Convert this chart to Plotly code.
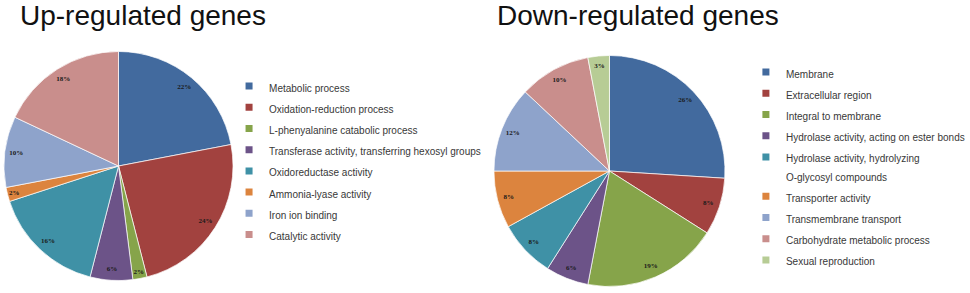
import plotly.graph_objects as go

# ---- data ----
up_labels = [
    "Metabolic process",
    "Oxidation-reduction process",
    "L-phenyalanine catabolic process",
    "Transferase activity, transferring hexosyl groups",
    "Oxidoreductase activity",
    "Ammonia-lyase activity",
    "Iron ion binding",
    "Catalytic activity",
]
up_values = [22, 24, 2, 6, 16, 2, 10, 18]

down_labels = [
    "Membrane",
    "Extracellular region",
    "Integral to membrane",
    "Hydrolase activity, acting on ester bonds",
    "Hydrolase activity, hydrolyzing\nO-glycosyl compounds",
    "Transporter activity",
    "Transmembrane transport",
    "Carbohydrate metabolic process",
    "Sexual reproduction",
]
down_values = [26, 8, 19, 6, 8, 8, 12, 10, 3]

up_colors = ["#426A9E", "#A2423F", "#86A44A", "#6C5388", "#3F91A6",
             "#DC843E", "#8EA3CB", "#C98E8C"]
down_colors = ["#426A9E", "#A2423F", "#86A44A", "#6C5388", "#3F91A6",
               "#DC843E", "#8EA3CB", "#C98E8C", "#B7CC95"]

W, H = 970, 293
LEG_TXT = 10


def legend_label(s):
    return "<br>".join(
        '<span style="font-size:%dpx">%s</span>' % (LEG_TXT, part)
        for part in s.split("\n")
    )


def px_x(v):
    return v / W


def px_y(v):
    return 1 - v / H


up_domain = dict(x=[px_x(4), px_x(234)], y=[px_y(281), px_y(51)])
down_domain = dict(x=[px_x(496), px_x(728)], y=[px_y(287), px_y(55)])

fig = go.Figure()


def add_pie(labels, values, colors, domain, legend_name):
    lab = [legend_label(l) for l in labels]
    common = dict(labels=lab, values=values, sort=False,
                  direction="clockwise", rotation=0, domain=domain)
    # legend source (hidden underneath; thick white outline gives small legend keys)
    fig.add_trace(go.Pie(
        marker=dict(colors=colors, line=dict(color="white", width=5)),
        textinfo="none", hoverinfo="skip",
        legend=legend_name, **common,
    ))
    # visible filled pie
    fig.add_trace(go.Pie(
        marker=dict(colors=colors, line=dict(color="white", width=0.7)),
        textinfo="none", hoverinfo="label+percent",
        showlegend=False, **common,
    ))
    # percentage labels placed near the rim ("inside end")
    fig.add_trace(go.Pie(
        hole=0.8,
        marker=dict(colors=["rgba(0,0,0,0)"] * len(values),
                    line=dict(color="rgba(0,0,0,0)", width=0)),
        texttemplate="<b>%{value}%</b>",
        textposition="inside",
        insidetextorientation="horizontal",
        textfont=dict(family="Liberation Serif", size=7, color="#1a1a1a"),
        hoverinfo="skip",
        showlegend=False, **common,
    ))


add_pie(up_labels, up_values, up_colors, up_domain, "legend")
add_pie(down_labels, down_values, down_colors, down_domain, "legend2")

leg_common = dict(
    font=dict(family="Liberation Sans", size=14, color="#383838"),
    xanchor="left", yanchor="top",
    bgcolor="rgba(0,0,0,0)", borderwidth=0,
    traceorder="normal",
    valign="top",
)

title_font = dict(family="Liberation Sans", size=28, color="#111111")

fig.update_layout(
    width=W, height=H,
    margin=dict(l=0, r=0, t=0, b=0),
    paper_bgcolor="white",
    plot_bgcolor="white",
    showlegend=True,
    legend=dict(x=px_x(230), y=px_y(70.5), **leg_common),
    legend2=dict(x=px_x(749), y=px_y(56.5), **leg_common),
    annotations=[
        dict(text="Up-regulated genes", x=px_x(20), y=1, xref="paper", yref="paper",
             xanchor="left", yanchor="top", showarrow=False, font=title_font,
             borderpad=0, borderwidth=0),
        dict(text="Down-regulated genes", x=px_x(499), y=1, xref="paper", yref="paper",
             xanchor="left", yanchor="top", showarrow=False, font=title_font,
             borderpad=0, borderwidth=0),
    ],
)

fig.write_html("out.html", config={"displayModeBar": False},
               post_script="document.body.style.margin='0px';")
